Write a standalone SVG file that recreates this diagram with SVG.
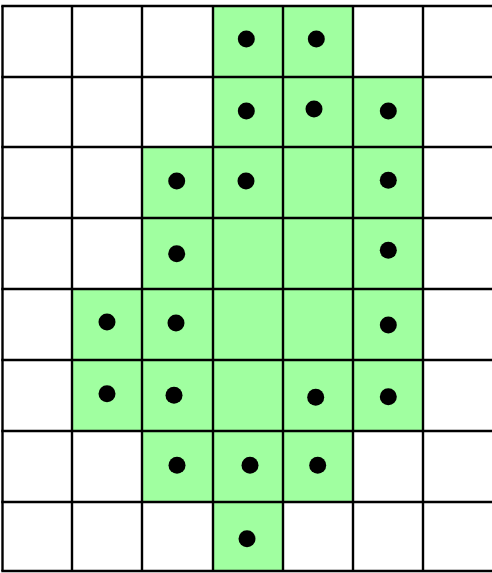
<svg xmlns="http://www.w3.org/2000/svg" width="492" height="573" viewBox="0 0 492 573">
<style>
.g{fill:#a0ffa0}
.ln{stroke:#000;stroke-width:2.4;fill:none}
.d{fill:#000}
</style>
<rect x="0" y="0" width="492" height="573" fill="#fff"/>
<g id="cells">
<rect class="g" x="213" y="6" width="70" height="71"/>
<rect class="g" x="283" y="6" width="70" height="71"/>
<rect class="g" x="213" y="77" width="70" height="70"/>
<rect class="g" x="283" y="77" width="70" height="70"/>
<rect class="g" x="353" y="77" width="70" height="70"/>
<rect class="g" x="142" y="147" width="281" height="71"/>
<rect class="g" x="142" y="218" width="281" height="71"/>
<rect class="g" x="72" y="289" width="351" height="71"/>
<rect class="g" x="72" y="360" width="351" height="71"/>
<rect class="g" x="142" y="431" width="211" height="71"/>
<rect class="g" x="213" y="502" width="70" height="69"/>
</g>
<g id="grid" class="ln">
<line x1="2.5" y1="6" x2="2.5" y2="571"/>
<line x1="72" y1="6" x2="72" y2="571"/>
<line x1="142" y1="6" x2="142" y2="571"/>
<line x1="213" y1="6" x2="213" y2="571"/>
<line x1="283" y1="6" x2="283" y2="571"/>
<line x1="353" y1="6" x2="353" y2="571"/>
<line x1="423" y1="6" x2="423" y2="571"/>
<line x1="1.3" y1="6" x2="492" y2="6"/>
<line x1="1.3" y1="77" x2="492" y2="77"/>
<line x1="1.3" y1="147" x2="492" y2="147"/>
<line x1="1.3" y1="218" x2="492" y2="218"/>
<line x1="1.3" y1="289" x2="492" y2="289"/>
<line x1="1.3" y1="360" x2="492" y2="360"/>
<line x1="1.3" y1="431" x2="492" y2="431"/>
<line x1="1.3" y1="502" x2="492" y2="502"/>
<line x1="1.3" y1="571" x2="492" y2="571"/>
</g>
<g id="dots" class="d">
<circle cx="246.3" cy="39" r="8.5"/>
<circle cx="316.3" cy="39" r="8.5"/>
<circle cx="246.3" cy="111" r="8.5"/>
<circle cx="314" cy="109" r="8.5"/>
<circle cx="388.3" cy="111" r="8.5"/>
<circle cx="176.7" cy="181" r="8.5"/>
<circle cx="246" cy="181" r="8.5"/>
<circle cx="388.3" cy="180.3" r="8.5"/>
<circle cx="176.7" cy="253.7" r="8.5"/>
<circle cx="388.3" cy="250.3" r="8.5"/>
<circle cx="107" cy="322" r="8.5"/>
<circle cx="176" cy="323" r="8.5"/>
<circle cx="388.3" cy="325" r="8.5"/>
<circle cx="107" cy="393.7" r="8.5"/>
<circle cx="174" cy="395.3" r="8.5"/>
<circle cx="315.7" cy="397.3" r="8.5"/>
<circle cx="388.3" cy="396.7" r="8.5"/>
<circle cx="177" cy="465.3" r="8.5"/>
<circle cx="250" cy="465.3" r="8.5"/>
<circle cx="317.7" cy="465.3" r="8.5"/>
<circle cx="247" cy="538.7" r="8.5"/>
</g>
</svg>
